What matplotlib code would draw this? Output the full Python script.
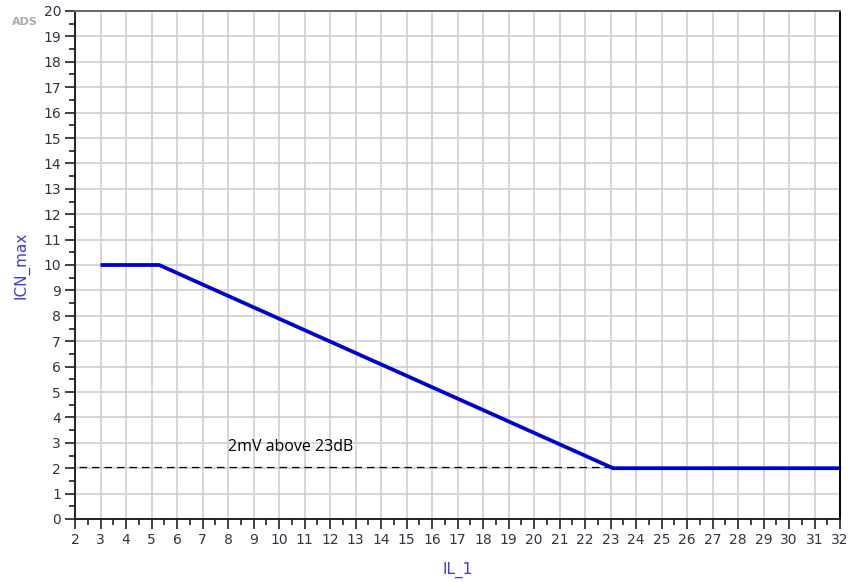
import matplotlib
matplotlib.use("Agg")
import matplotlib.pyplot as plt
from matplotlib.ticker import MultipleLocator

# ICN_max limit curve versus IL_1
il_1 = [3.0, 5.3, 23.1, 32.0]
icn_max = [10.0, 10.0, 2.0, 2.0]

# Reference level: 2mV above 23dB
ref_x = [2.15, 30.8]
ref_y = [2.05, 2.05]
ref_label = "2mV above 23dB"

x_ticks = list(range(2, 33))
y_ticks = list(range(0, 21))

fig = plt.figure(figsize=(8.51, 5.82), dpi=100)
ax = fig.add_axes([75 / 851, 1 - 519 / 582, (840 - 75) / 851, (519 - 11) / 582])

ax.plot(il_1, icn_max, color="#0000cc", linewidth=2.7, solid_capstyle="butt",
        solid_joinstyle="miter", zorder=3)
ax.plot(ref_x, ref_y, color="black", linewidth=0.9, linestyle=(0, (6, 4)), zorder=2)
ax.text(8.0, 2.83, ref_label, fontsize=11.5, family="Open Sans", color="black",
        va="center", ha="left")

ax.set_xlim(2, 32)
ax.set_ylim(0, 20)
ax.set_xticks(x_ticks)
ax.set_yticks(y_ticks)
ax.xaxis.set_minor_locator(MultipleLocator(0.5))
ax.yaxis.set_minor_locator(MultipleLocator(0.5))
ax.grid(True, which="major", color="#cccccc", linewidth=1.1, zorder=0)
ax.set_axisbelow(True)

ax.tick_params(which="major", direction="out", length=7, width=1.2, color="#222222",
               labelsize=10, labelcolor="#333344", pad=3)
ax.tick_params(which="minor", direction="out", length=4, width=1.2, color="#222222")
ax.tick_params(axis="x", top=False, which="both")
ax.tick_params(axis="y", right=False, which="both")

for side in ("left", "bottom"):
    ax.spines[side].set_color("#222222")
    ax.spines[side].set_linewidth(1.4)
ax.spines["right"].set_color("black")
ax.spines["right"].set_linewidth(1.4)
ax.spines["top"].set_color("#666666")
ax.spines["top"].set_linewidth(1.4)

ax.set_xlabel("IL_1", fontsize=11, color="#3c3cd8", labelpad=11)
ax.set_ylabel("ICN_max", fontsize=11, color="#3c3cd8", labelpad=10)

fig.text(12 / 851, 1 - 22 / 582, "ADS", fontsize=8, color="#aaaaaa",
         fontweight="bold", va="center", ha="left")

fig.savefig("out.png", dpi=100)
